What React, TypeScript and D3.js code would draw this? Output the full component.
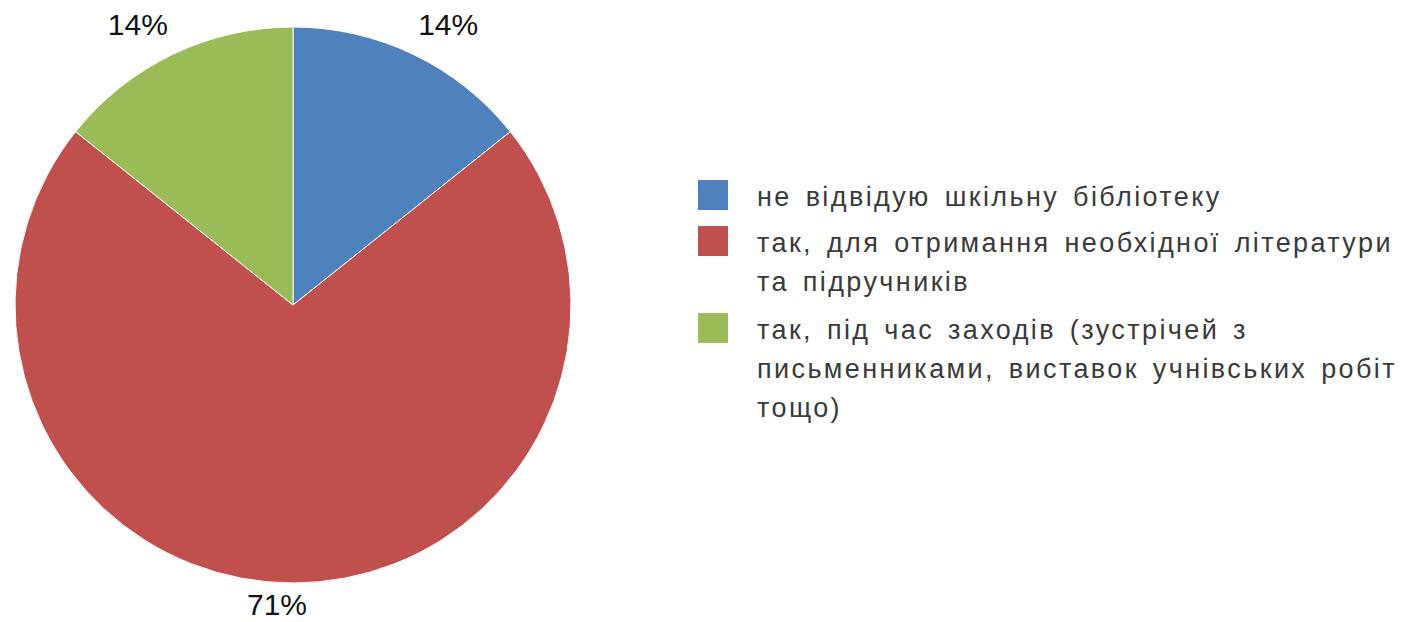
import React from "react";
import * as d3 from "d3";

const categories: string[][] = [
  ["не відвідую шкільну бібліотеку"],
  ["так, для отримання необхідної літератури", "та підручників"],
  ["так, під час заходів (зустрічей з", "письменниками, виставок учнівських робіт", "тощо)"],
];
const values: number[] = [1, 5, 1];
const labels: string[] = ["14%", "71%", "14%"];
const colors: string[] = ["#4F81BD", "#C0504D", "#9BBB59"];

export default function App() {
  const W = 1419, H = 622;
  const cx = 293, cy = 305, R = 278;
  const pie = d3.pie<number>().sort(null).value((d) => d);
  const arcs = pie(values);
  const arc = d3.arc<d3.PieArcDatum<number>>().innerRadius(0).outerRadius(R);
  const labelR = 300;

  // legend layout
  const legX = 698, sq = 30, textX = 757, lineH = 39;
  const legStartY = [180, 226, 313];

  return (
    <svg width={W} height={H} style={{ position: "absolute", left: 0, top: 0, background: "#fff" }}
      fontFamily="'Liberation Sans', Arial, sans-serif">
      <g transform={`translate(${cx},${cy})`}>
        {arcs.map((a, i) => (
          <path key={i} d={arc(a) || ""} fill={colors[i]} stroke="#fff" strokeWidth={1} />
        ))}
        {arcs.map((a, i) => {
          const mid = (a.startAngle + a.endAngle) / 2;
          const x = labelR * Math.sin(mid);
          const y = -labelR * Math.cos(mid);
          const s = Math.sin(mid);
          const anchor = Math.abs(s) < 0.2 ? "middle" : s > 0 ? "start" : "end";
          const dx = anchor === "start" ? -5 : anchor === "end" ? 5 : -16;
          const dy = y < 0 ? -8 : 2;
          return (
            <text key={i} x={x + dx} y={y + dy} textAnchor={anchor} fontSize={30}
              fill="#111" dominantBaseline="middle">{labels[i]}</text>
          );
        })}
      </g>
      <g>
        {categories.map((lines, i) => (
          <g key={i}>
            <rect x={legX} y={legStartY[i]} width={sq} height={sq} fill={colors[i]} />
            {lines.map((t, j) => (
              <text key={j} x={textX} y={legStartY[i] + sq / 2 + 4 + j * lineH} dominantBaseline="middle"
                fontSize={27} fill="#3a3a3a" letterSpacing={2.4} wordSpacing={4}>{t}</text>
            ))}
          </g>
        ))}
      </g>
    </svg>
  );
}
